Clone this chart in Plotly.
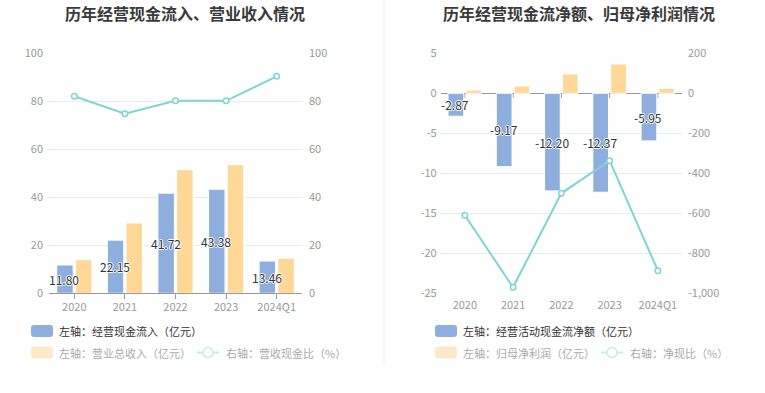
import plotly.graph_objects as go

# ---------------- data ----------------
categories = ["2020", "2021", "2022", "2023", "2024Q1"]

# left chart
cash_inflow = [11.80, 22.15, 41.72, 43.38, 13.46]      # 经营现金流入（亿元）
revenue = [14.0, 29.3, 51.5, 53.6, 14.6]               # 营业总收入（亿元）
cash_rev_ratio = [82.1, 74.8, 80.2, 80.2, 90.4]        # 营收现金比（%）

# right chart
net_cash_flow = [-2.87, -9.17, -12.20, -12.37, -5.95]  # 经营活动现金流净额（亿元）
net_profit = [0.41, 0.91, 2.41, 3.66, 0.62]            # 归母净利润（亿元）
net_cash_ratio = [-610, -970, -500, -337, -887]        # 净现比（%）

left_ticks = [0, 20, 40, 60, 80, 100]
left_ticktext = ["0", "20", "40", "60", "80", "100"]
r_left_ticks = [5, 0, -5, -10, -15, -20, -25]
r_left_ticktext = ["5", "0", "-5", "-10", "-15", "-20", "-25"]
r_right_ticks = [200, 0, -200, -400, -600, -800, -1000]
r_right_ticktext = ["200", "0", "-200", "-400", "-600", "-800", "-1,000"]

titles = ["历年经营现金流入、营业收入情况", "历年经营现金流净额、归母净利润情况"]
left_legend = ["左轴：经营现金流入（亿元）", "左轴：营业总收入（亿元）", "右轴：营收现金比（%）"]
right_legend = ["左轴：经营活动现金流净额（亿元）", "左轴：归母净利润（亿元）", "右轴：净现比（%）"]

# ---------------- style ----------------
W, H = 765, 393
FONT = "Noto Sans CJK SC"
BLUE = "#8eaedd"
YELLOW = "#ffd796"
TEAL = "#7fd4d6"
GRID = "#e8ebf2"
TICK = "#999999"
AXIS = "#9a9a9a"


def px_x(p):
    return p / W


def px_y(p):
    return 1 - p / H


fig = go.Figure()

bar_line = dict(color="white", width=1)
# ---- left chart traces ----
fig.add_trace(go.Bar(x=categories, y=cash_inflow, marker=dict(color=BLUE, line=bar_line),
                     xaxis="x", yaxis="y", showlegend=False, hoverinfo="skip"))
fig.add_trace(go.Bar(x=categories, y=revenue, marker=dict(color=YELLOW, line=bar_line),
                     xaxis="x", yaxis="y", showlegend=False, hoverinfo="skip"))
fig.add_trace(go.Scatter(x=categories, y=cash_rev_ratio, mode="lines+markers",
                         line=dict(color=TEAL, width=2),
                         marker=dict(symbol="circle", size=5.5, color="white", line=dict(color=TEAL, width=1.5)),
                         xaxis="x", yaxis="y2", showlegend=False, hoverinfo="skip"))

# ---- right chart traces ----
fig.add_trace(go.Bar(x=categories, y=net_cash_flow, marker=dict(color=BLUE, line=bar_line),
                     xaxis="x2", yaxis="y3", showlegend=False, hoverinfo="skip"))
fig.add_trace(go.Bar(x=categories, y=net_profit, marker=dict(color=YELLOW, line=bar_line),
                     xaxis="x2", yaxis="y3", showlegend=False, hoverinfo="skip"))
fig.add_trace(go.Scatter(x=categories, y=net_cash_ratio, mode="lines+markers",
                         line=dict(color=TEAL, width=2),
                         marker=dict(symbol="circle", size=5.5, color="white", line=dict(color=TEAL, width=1.5)),
                         xaxis="x2", yaxis="y4", showlegend=False, hoverinfo="skip"))

# ---- axes ----
xl = [px_x(49), px_x(302)]
xr = [px_x(440.7), px_x(682)]
yd = [px_y(293.3), px_y(53.3)]
tickfont = dict(family=FONT, size=11, color=TICK)
xrange = [-0.5, len(categories) - 0.5]

fig.update_layout(
    template="none",
    width=W, height=H, autosize=False,
    margin=dict(l=0, r=0, t=0, b=0, pad=0),
    paper_bgcolor="white", plot_bgcolor="white",
    barmode="group", bargap=0.26, bargroupgap=0.12,
    font=dict(family=FONT),
    xaxis=dict(domain=xl, anchor="y", type="category", range=xrange, showline=True, linecolor=AXIS,
               linewidth=1, ticks="outside", ticklen=5, tickcolor=AXIS, tickfont=tickfont, showgrid=False,
               automargin=False, zeroline=False, ticklabelstandoff=-2),
    yaxis=dict(domain=yd, anchor="x", range=[0, 100], tickvals=left_ticks, ticktext=left_ticktext,
               gridcolor=GRID, gridwidth=1, zeroline=False, tickfont=tickfont, ticks="", showline=False,
               automargin=False, ticklabelstandoff=5),
    yaxis2=dict(domain=yd, anchor="x", overlaying="y", side="right", range=[0, 100], tickvals=left_ticks,
                ticktext=left_ticktext, showgrid=False, zeroline=False, tickfont=tickfont, showline=False,
                ticks="", automargin=False, ticklabelstandoff=6),
    xaxis2=dict(domain=xr, anchor="y3", type="category", range=xrange, showline=False, ticks="",
                tickfont=tickfont, showgrid=False, automargin=False, zeroline=False, ticklabelstandoff=4),
    yaxis3=dict(domain=yd, anchor="x2", range=[-25, 5], tickvals=r_left_ticks, ticktext=r_left_ticktext,
                gridcolor=GRID, gridwidth=1, zeroline=True, zerolinecolor=AXIS, zerolinewidth=1,
                tickfont=tickfont, showline=False, ticks="", automargin=False, ticklabelstandoff=3),
    yaxis4=dict(domain=yd, anchor="x2", overlaying="y3", side="right", range=[-1000, 200],
                tickvals=r_right_ticks, ticktext=r_right_ticktext, showgrid=False, zeroline=False,
                tickfont=tickfont, showline=False, ticks="", automargin=False, ticklabelstandoff=5),
)

annotations = []
shapes = []

# titles
for txt, cx in zip(titles, [185, 579]):
    annotations.append(dict(text=f"<b>{txt}</b>", x=px_x(cx), y=px_y(13), xref="paper", yref="paper",
                            xanchor="center", yanchor="middle", showarrow=False,
                            font=dict(family=FONT, size=16, color="#3a3a3a")))

# value labels in the middle of the blue bars (x given as category index)
label_font = dict(family=FONT, size=12, color="#333333",
                  shadow="1px 0 0 #fff, -1px 0 0 #fff, 0 1px 0 #fff, 0 -1px 0 #fff")
for i, v in enumerate(cash_inflow):
    annotations.append(dict(text=f"{v:.2f}", x=i, y=v / 2, xref="x", yref="y", showarrow=False,
                            xshift=-10, font=label_font))
for i, v in enumerate(net_cash_flow):
    annotations.append(dict(text=f"{v:.2f}", x=i, y=v / 2, xref="x2", yref="y3", showarrow=False,
                            xshift=-9.5, font=label_font))

# tick marks on the zero line of the right chart
for i in range(len(categories)):
    shapes.append(dict(type="line", xref="x2", yref="y3", x0=i, x1=i, y0=0, y1=-0.6,
                       line=dict(color=AXIS, width=1), layer="below"))

# separator between the two panels
shapes.append(dict(type="line", xref="paper", yref="paper", x0=px_x(384), x1=px_x(384),
                   y0=px_y(0), y1=px_y(365), line=dict(color="#eeeeee", width=1)))


# legends (drawn manually)
def rounded_rect(x0, y0, x1, y1, r):
    pts = [
        f"M {px_x(x0 + r)},{px_y(y0)}",
        f"L {px_x(x1 - r)},{px_y(y0)}",
        f"Q {px_x(x1)},{px_y(y0)} {px_x(x1)},{px_y(y0 + r)}",
        f"L {px_x(x1)},{px_y(y1 - r)}",
        f"Q {px_x(x1)},{px_y(y1)} {px_x(x1 - r)},{px_y(y1)}",
        f"L {px_x(x0 + r)},{px_y(y1)}",
        f"Q {px_x(x0)},{px_y(y1)} {px_x(x0)},{px_y(y1 - r)}",
        f"L {px_x(x0)},{px_y(y0 + r)}",
        f"Q {px_x(x0)},{px_y(y0)} {px_x(x0 + r)},{px_y(y0)}",
        "Z",
    ]
    return " ".join(pts)


def legend_box(x0, yc, color):
    shapes.append(dict(type="path", xref="paper", yref="paper",
                       path=rounded_rect(x0, yc - 6, x0 + 22, yc + 6, 3),
                       line=dict(width=0), fillcolor=color))


def legend_line(x0, yc):
    shapes.append(dict(type="line", xref="paper", yref="paper", x0=px_x(x0), x1=px_x(x0 + 22),
                       y0=px_y(yc), y1=px_y(yc), line=dict(color="#c2ecee", width=2)))
    shapes.append(dict(type="circle", xref="paper", yref="paper", x0=px_x(x0 + 6), x1=px_x(x0 + 16),
                       y0=px_y(yc + 5), y1=px_y(yc - 5), line=dict(color="#c2ecee", width=1.5),
                       fillcolor="white"))


def legend_text(txt, x0, yc, color):
    annotations.append(dict(text=txt, x=px_x(x0), y=px_y(yc), xref="paper", yref="paper",
                            xanchor="left", yanchor="middle", showarrow=False,
                            font=dict(family=FONT, size=11, color=color)))


for labels, bx, lx, tx2 in [(left_legend, 31, 197, 224), (right_legend, 435, 601, 628)]:
    legend_box(bx, 331, BLUE)
    legend_text(labels[0], bx + 26, 331, "#333333")
    legend_box(bx, 352.5, "#ffe9c9")
    legend_text(labels[1], bx + 26, 352.5, "#aaaaaa")
    legend_line(lx, 352.5)
    legend_text(labels[2], tx2, 352.5, "#aaaaaa")

fig.update_layout(annotations=annotations, shapes=shapes)

fig.write_html("out.html", config={"displayModeBar": False},
               post_script="document.body.style.margin='0';document.body.style.overflow='hidden';")
